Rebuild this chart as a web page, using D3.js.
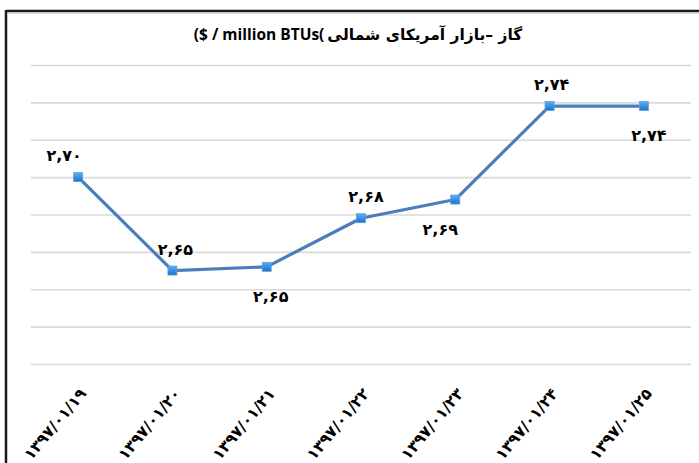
<!DOCTYPE html>
<html><head><meta charset="utf-8">
<script src="https://cdn.jsdelivr.net/npm/d3@7"></script>
<style>
html,body{margin:0;padding:0;background:#fff;}
svg{display:block;}
</style></head>
<body>
<svg id="c" width="699" height="463"></svg>
<script>
const categories = ["۱۳۹۷/۰۱/۱۹","۱۳۹۷/۰۱/۲۰","۱۳۹۷/۰۱/۲۱","۱۳۹۷/۰۱/۲۲","۱۳۹۷/۰۱/۲۳","۱۳۹۷/۰۱/۲۴","۱۳۹۷/۰۱/۲۵"];
const values = [2.700, 2.650, 2.652, 2.678, 2.688, 2.738, 2.738];
const valueLabels = ["۲,۷۰","۲,۶۵","۲,۶۵","۲,۶۸","۲,۶۹","۲,۷۴","۲,۷۴"];
const yTicks = [2.60, 2.62, 2.64, 2.66, 2.68, 2.70, 2.72, 2.74, 2.76];
const titleLatin = "($ / million BTUs(";
const titlePersian = "گاز –بازار آمریکای شمالی";

const labelSide = ["above","above","below","above","below","above","below"];
const labelShift = [-14, 3, 4, 5, -15, 2, 5];

const svg = d3.select("#c");
const W = 699, H = 463;
const plot = {left: 31, right: 691, top: 65, bottom: 364};

const x = d3.scaleBand().domain(categories).range([plot.left, plot.right]);
const y = d3.scaleLinear().domain([2.60, 2.76]).range([plot.bottom, plot.top]);

// frame
svg.append("line").attr("x1",6).attr("x2",W).attr("y1",11).attr("y2",11)
  .attr("stroke","#1a1a1a").attr("stroke-width",2.5);
svg.append("line").attr("x1",6).attr("x2",6).attr("y1",10).attr("y2",H)
  .attr("stroke","#1a1a1a").attr("stroke-width",2.5);
svg.append("line").attr("x1",8).attr("x2",W).attr("y1",13.2).attr("y2",13.2)
  .attr("stroke","#c8c8c8").attr("stroke-width",1);

// gridlines via axis
const gAxis = svg.append("g").attr("transform",`translate(${plot.left},0)`)
  .call(d3.axisRight(y).tickValues(yTicks).tickSize(plot.right-plot.left).tickFormat(""));
gAxis.select(".domain").remove();
gAxis.selectAll(".tick line").attr("stroke","#d9d9d9").attr("stroke-width",1.6);

// x axis labels
const gx = svg.append("g").attr("transform",`translate(0,${plot.bottom})`)
  .call(d3.axisBottom(x).tickSize(0).tickFormat(d=>d));
gx.select(".domain").remove();
gx.selectAll(".tick text")
  .attr("font-family","'DejaVu Sans', sans-serif")
  .attr("font-weight","bold")
  .attr("font-size",15.5)
  .attr("fill","#000")
  .attr("direction","ltr")
  .attr("text-anchor","end")
  .attr("y",0).attr("dy",0)
  .attr("transform","translate(9,30) rotate(-50)");

// line
const cx = d => x(d) + x.bandwidth()/2;
const pts = categories.map((c,i)=>({c, v: values[i], l: valueLabels[i], s: labelSide[i], dx: labelShift[i]}));
svg.append("path").datum(pts)
  .attr("d", d3.line().x(d=>cx(d.c)).y(d=>y(d.v)))
  .attr("fill","none").attr("stroke","#4a7ebb").attr("stroke-width",3.2)
  .attr("stroke-linejoin","round");

const defs = svg.append("defs");
const grad = defs.append("linearGradient").attr("id","mg").attr("x1",0).attr("y1",0).attr("x2",0).attr("y2",1);
grad.append("stop").attr("offset","0%").attr("stop-color","#5aaef5");
grad.append("stop").attr("offset","100%").attr("stop-color","#1a72d0");

svg.selectAll("rect.m").data(pts).join("rect").attr("class","m")
  .attr("x",d=>cx(d.c)-4.5).attr("y",d=>y(d.v)-4.5)
  .attr("width",9).attr("height",9)
  .attr("fill","url(#mg)").attr("stroke","#6a9ad6").attr("stroke-width",0.8);

// data labels
svg.selectAll("text.dl").data(pts).join("text").attr("class","dl")
  .attr("x",d=>cx(d.c) + d.dx)
  .attr("y",d=>y(d.v) + (d.s==="above" ? -16 : 35))
  .attr("text-anchor","middle")
  .attr("direction","ltr")
  .attr("font-family","'DejaVu Sans', sans-serif")
  .attr("font-weight","bold")
  .attr("font-size",16)
  .attr("fill","#000")
  .text(d=>d.l);

// title: two pieces placed side by side
const tg = svg.append("g");
const tL = tg.append("text").attr("y",40).attr("direction","ltr")
  .attr("font-family","'Open Sans', sans-serif").attr("font-weight","bold")
  .attr("font-size",15.5).attr("fill","#000").attr("text-anchor","start")
  .text(titleLatin);
const tR = tg.append("text").attr("y",40).attr("direction","rtl")
  .attr("font-family","'DejaVu Sans', sans-serif").attr("font-weight","bold")
  .attr("font-size",15.5).attr("fill","#000").attr("text-anchor","start")
  .text(titlePersian);
const wL = tL.node().getComputedTextLength();
const wR = tR.node().getComputedTextLength();
const total = wL + 3 + wR;
const startX = 358 - total/2;
tL.attr("x", startX);
tR.attr("x", startX + total);
</script>
</body></html>
